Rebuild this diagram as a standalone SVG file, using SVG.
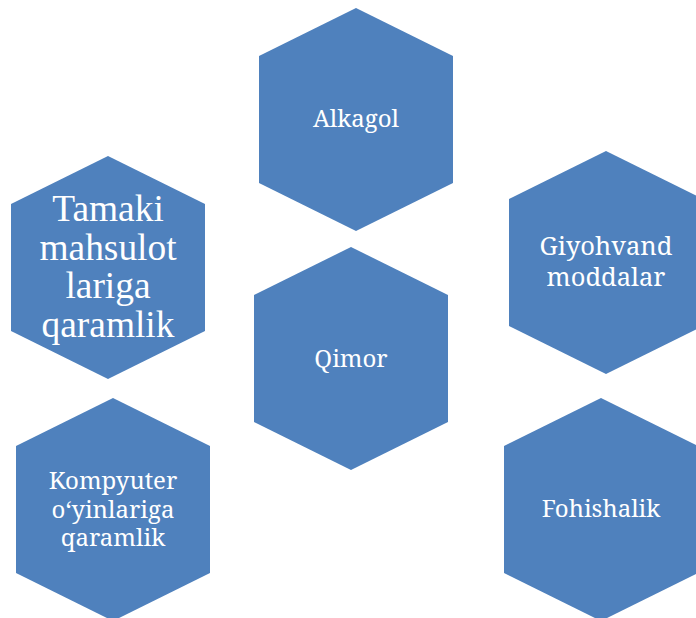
<svg xmlns="http://www.w3.org/2000/svg" width="696" height="618" viewBox="0 0 696 618">
<style>
.h{fill:#4f81bd}
text{font-family:"Noto Serif","DejaVu Serif","Liberation Serif",serif;fill:#fff;text-anchor:middle}
.s{font-size:24px}
.m{font-size:25.5px}
.l{font-family:"Liberation Serif",serif;font-size:37.4px}
</style>
<rect width="696" height="618" fill="#fff"/>
<g id="connectors"></g>
<g id="alkagol"><polygon class="h" points="356,8 453,56 453,183 356,231 259,183 259,56"/><text class="s" x="356" y="127">Alkagol</text></g>
<g id="tamaki"><polygon class="h" points="108,156 205,204 205,331 108,379 11,331 11,204"/><text class="l" x="108" y="221">Tamaki</text><text class="l" x="108" y="260">mahsulot</text><text class="l" x="108" y="298">lariga</text><text class="l" x="108" y="337">qaramlik</text></g>
<g id="giyohvand"><polygon class="h" points="606,151 703,199 703,326 606,374 509,326 509,199"/><text class="m" x="606" y="255">Giyohvand</text><text class="m" x="606" y="286">moddalar</text></g>
<g id="qimor"><polygon class="h" points="351,247 448,295 448,422 351,470 254,422 254,295"/><text class="s" x="351" y="367">Qimor</text></g>
<g id="kompyuter"><polygon class="h" points="113,398 210,446 210,573 113,621 16,573 16,446"/><text class="s" x="113" y="489">Kompyuter</text><text class="s" x="113" y="518">o‘yinlariga</text><text class="s" x="113" y="546">qaramlik</text></g>
<g id="fohishalik"><polygon class="h" points="601,398 698,446 698,573 601,621 504,573 504,446"/><text class="s" x="601" y="517">Fohishalik</text></g>
</svg>
